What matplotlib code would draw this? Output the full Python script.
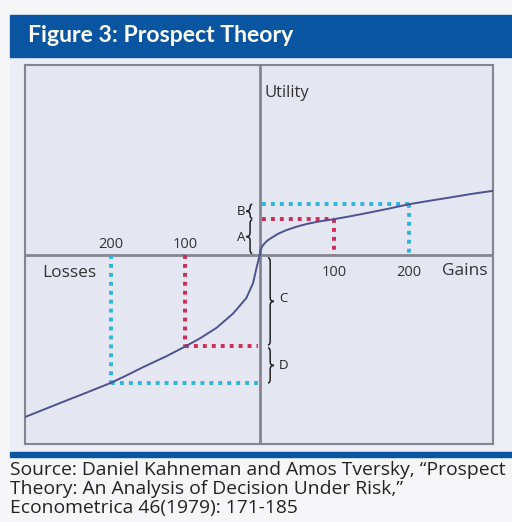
"""Prospect theory value function, redrawn from the Kahneman & Tversky figure."""

import matplotlib.pyplot as plt
from matplotlib.patches import Rectangle
from matplotlib.path import Path
from matplotlib.patches import PathPatch

# value function (outcome, utility)
gain_x = [0, 1, 3, 6, 10, 16, 24, 35, 50, 63, 80, 100, 125, 148, 175, 200, 230, 255, 285, 313]
gain_y = [0, 6, 11, 15, 19, 23, 28, 33, 38, 41.5, 45, 48, 52.5, 57, 62.5, 68, 73, 77, 82, 86]
loss_x = [-318, -268, -235, -200, -179, -157, -125, -100, -80, -58, -36, -18, -9, -4, 0]
loss_y = [-219, -199, -186, -172, -162, -151, -136, -123, -112, -98, -79, -58, -38, -16, 0]

# reference outcomes and their utilities
ref_gain = [100, 200]
ref_gain_u = [48, 68]
ref_loss = [-100, -200]
ref_loss_u = [-123, -172]
ref_labels = ["100", "200"]

RED = "#d42a52"
CYAN = "#2bb5de"
CURVE = "#4d5290"
AXIS = "#85858f"
HEADER = "#0a55a2"
FONT = "Open Sans"

W, H = 512, 522
fig = plt.figure(figsize=(W / 100, H / 100), dpi=100)
fig.patch.set_facecolor("#f6f6f8")


def fx(px):
    return px / W


def fy(py):
    return 1 - py / H


# panel, header band and bottom rule
fig.patches.append(Rectangle((fx(10), fy(452)), fx(502), 395 / H,
                             transform=fig.transFigure, color="#eceef6", zorder=-2))
fig.patches.append(Rectangle((fx(10), fy(57)), fx(502), 42 / H,
                             transform=fig.transFigure, color=HEADER, zorder=-1))
fig.patches.append(Rectangle((fx(10), fy(457)), fx(502), 5 / H,
                             transform=fig.transFigure, color=HEADER, zorder=-1))
fig.text(fx(28), fy(36), "Figure 3: Prospect Theory", color="white",
         fontsize=16.6, fontweight="bold", family="Lato", va="center")

src = ("Source: Daniel Kahneman and Amos Tversky, \u201cProspect\n"
       "Theory: An Analysis of Decision Under Risk,\u201d\n"
       "Econometrica 46(1979): 171-185")
fig.text(fx(10), fy(461), src, fontsize=13.9, family=FONT, color="#222222",
         va="top", linespacing=1.06)

ax = fig.add_axes([fx(25), fy(444), fx(468), 379 / H])
ax.set_zorder(2)
ax.set_facecolor("#e4e6f2")
ax.set_xlim(-315, 313)
ax.set_ylim(-254, 255)
ax.set_xticks([])
ax.set_yticks([])
for s in ax.spines.values():
    s.set_color(AXIS)
    s.set_linewidth(1.5)

ax.axhline(0, color=AXIS, lw=2, zorder=1)
ax.axvline(0, color=AXIS, lw=2, zorder=1)

ax.plot(gain_x, gain_y, color=CURVE, lw=1.4, zorder=4)
ax.plot(loss_x, loss_y, color=CURVE, lw=1.4, zorder=4)

dots = dict(lw=2.8, linestyle=(0, (1, 1.3)), zorder=3)
for x, u, c in zip(ref_gain, ref_gain_u, [RED, CYAN]):
    ax.plot([3, x], [u, u], color=c, **dots)
    ax.plot([x, x], [u, 0], color=c, **dots)
for x, u, c in zip(ref_loss, ref_loss_u, [RED, CYAN]):
    ax.plot([x, x], [0, u], color=c, **dots)
    ax.plot([x, -3], [u, u], color=c, **dots)

fs = 10.5
for x, lab in zip(ref_gain, ref_labels):
    ax.text(x, -13, lab, ha="center", va="top", fontsize=fs, family=FONT, color="#333333")
for x, lab in zip(ref_loss, ref_labels):
    ax.text(x, 4, lab, ha="center", va="bottom", fontsize=fs, family=FONT, color="#333333")
ax.text(275, -11, "Gains", ha="center", va="top", fontsize=12.5, family=FONT, color="#333333")
ax.text(-256, -13, "Losses", ha="center", va="top", fontsize=12.5, family=FONT, color="#333333")
ax.text(7, 218, "Utility", ha="left", va="center", fontsize=12, family=FONT, color="#333333")


def brace(x, y0, y1, w, side):
    """Curly brace spanning y0..y1 at x, tip pointing to side (-1 left, +1 right)."""
    top, bot = max(y0, y1), min(y0, y1)
    mid = (top + bot) / 2
    r = min(w, (top - bot) / 4)
    tip = x + side * w
    back = x - side * w * 0.6
    verts = [(back, top), (x, top), (x, top - r),
             (x, mid + r), (x, mid), (tip, mid),
             (x, mid), (x, mid - r),
             (x, bot + r), (x, bot), (back, bot)]
    codes = [Path.MOVETO, Path.CURVE3, Path.CURVE3,
             Path.LINETO, Path.CURVE3, Path.CURVE3,
             Path.CURVE3, Path.CURVE3,
             Path.LINETO, Path.CURVE3, Path.CURVE3]
    ax.add_patch(PathPatch(Path(verts, codes), fill=False, lw=1.1,
                           edgecolor="#222222", zorder=5))


brace(-13, ref_gain_u[1], ref_gain_u[0] + 1, 5, -1)
brace(-13, ref_gain_u[0] - 1, 2, 5, -1)
brace(14, -4, ref_loss_u[0] + 2, 5, 1)
brace(14, ref_loss_u[0] - 2, ref_loss_u[1], 5, 1)

ax.text(-25, 58, "B", ha="center", va="center", fontsize=9.5, family=FONT, color="#222222")
ax.text(-25, 23, "A", ha="center", va="center", fontsize=9.5, family=FONT, color="#222222")
ax.text(32, -59, "C", ha="center", va="center", fontsize=9.5, family=FONT, color="#222222")
ax.text(32, -149, "D", ha="center", va="center", fontsize=9.5, family=FONT, color="#222222")

fig.savefig("out.png", dpi=100, facecolor=fig.get_facecolor())
